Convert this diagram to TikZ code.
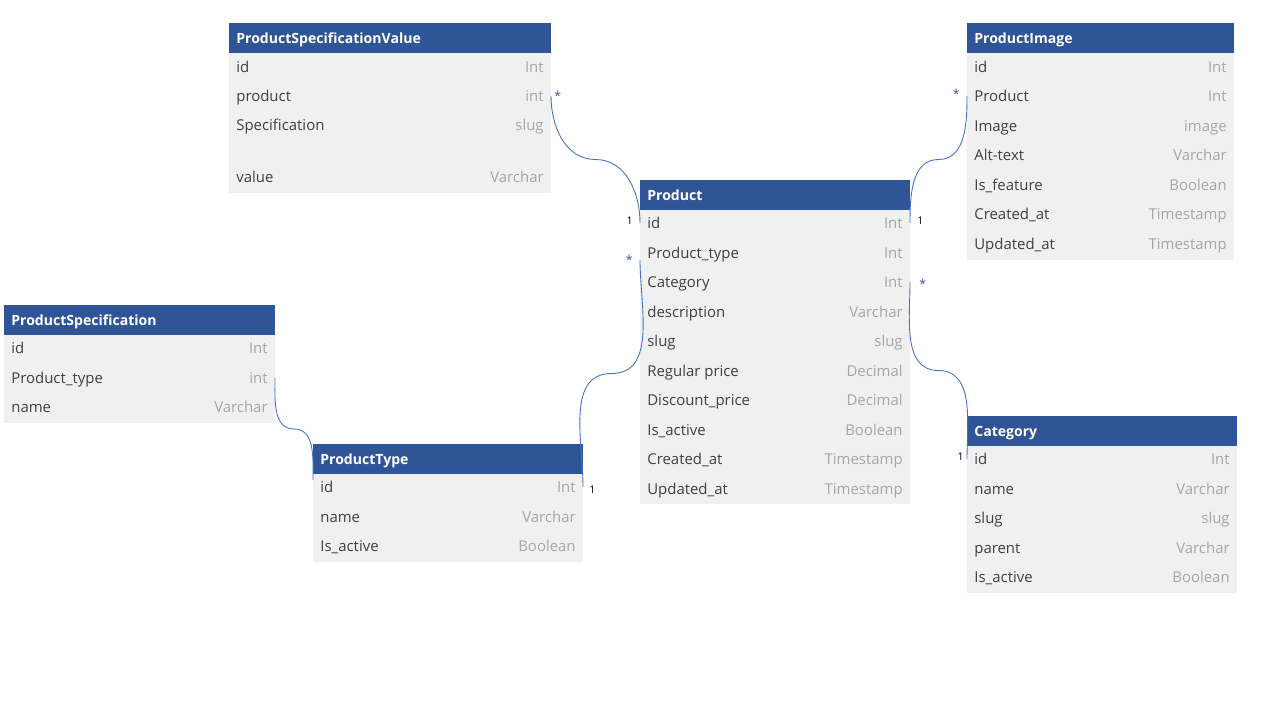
\documentclass[tikz,border=0pt]{standalone}
\usepackage{fontspec}
\setmainfont{Open Sans}
\usetikzlibrary{positioning,calc}
\definecolor{cabecera}{HTML}{2F5597}
\definecolor{cuerpo}{HTML}{F0F0F0}
\definecolor{campo}{HTML}{404040}
\definecolor{tipo}{HTML}{A6A6A6}
\definecolor{enlace}{HTML}{4472C4}
\tikzset{
  titulo/.style={anchor=west, inner xsep=0.14cm, inner ysep=0pt, text height=0.27cm, text depth=0.04cm, text=white, font=\bfseries\fontsize{8}{9}\selectfont},
  nombre/.style={anchor=west, inner xsep=0.14cm, inner ysep=0pt, text height=0.27cm, text depth=0.04cm, text=campo, font=\fontsize{8.5}{10}\selectfont},
  tipodato/.style={anchor=east, inner xsep=0.14cm, inner ysep=0pt, text height=0.27cm, text depth=0.04cm, text=tipo, font=\fontsize{8.5}{10}\selectfont},
  relacion/.style={draw=enlace, line width=0.5pt},
  muchos/.style={inner sep=0pt, text=cabecera, font=\fontsize{7}{8}\selectfont},
  uno/.style={inner sep=0pt, text=black, font=\fontsize{6}{7}\selectfont}
}
% #1 nombre, #2 x izq, #3 x der, #4 arriba, #5 abajo, #6 titulo, #7 filas
\newcommand{\tabla}[7]{%
  \fill[cuerpo] (#2,#4+30) rectangle (#3,#5);
  \fill[cabecera] (#2,#4) rectangle (#3,#4+30);
  \node[titulo] (#1) at (#2,#4+15) {#6};
  \foreach \fy/\fid/\fcampo/\ftipo in {#7}{
    \node[nombre] (#1-\fid) at (#2,\fy) {\fcampo};
    \node[tipodato] (#1-\fid-t) at (#3,\fy) {\ftipo};
  }
}
\begin{document}
\begin{tikzpicture}[x=0.02cm, y=-0.02cm]
  \useasboundingbox (0,0) rectangle (1280,720);
  % Tablas
  \tabla{psv}{229}{551}{23}{193}{ProductSpecificationValue}{67/id/id/Int, 96/product/product/int, 125/spec/Specification/slug, 177/value/value/Varchar}
  \tabla{prod}{640}{910}{180}{504}{Product}{223/id/id/Int, 253/ptype/Product\_type/Int, 282/cat/Category/Int, 312/desc/description/Varchar, 341/slug/slug/slug, 371/rprice/Regular price/Decimal, 400/dprice/Discount\_price/Decimal, 430/active/Is\_active/Boolean, 459/created/Created\_at/Timestamp, 489/updated/Updated\_at/Timestamp}
  \tabla{pi}{967}{1234}{23}{260}{ProductImage}{67/id/id/Int, 96/product/Product/Int, 126/image/Image/image, 155/alt/Alt-text/Varchar, 185/feat/Is\_feature/Boolean, 214/created/Created\_at/Timestamp, 244/updated/Updated\_at/Timestamp}
  \tabla{ps}{4}{275}{305}{423}{ProductSpecification}{348/id/id/Int, 378/ptype/Product\_type/int, 407/name/name/Varchar}
  \tabla{pt}{313}{583}{444}{562}{ProductType}{487/id/id/Int, 517/name/name/Varchar, 546/active/Is\_active/Boolean}
  \tabla{cat}{967}{1237}{416}{593}{Category}{459/id/id/Int, 489/name/name/Varchar, 518/slug/slug/slug, 548/parent/parent/Varchar, 577/active/Is\_active/Boolean}
  % Puntos de llegada
  \coordinate (prod-ptype-in) at ([yshift=-0.14cm]prod-ptype.west);
  \coordinate (pt-in) at ([yshift=0.14cm]pt-id.west);
  % Relaciones
  \draw[relacion] (psv-product-t.east) to[out=-90,in=180] ($(psv-product-t.east)!.5!(prod-id.west)$) to[out=0,in=90] (prod-id.west);
  \draw[relacion] (pt-id-t.east) to[out=90,in=180] ($(pt-id-t.east)!.5!(prod-ptype-in)$) to[out=0,in=-90] (prod-ptype-in);
  \draw[relacion] (ps-ptype-t.east) to[out=-90,in=180] ($(ps-ptype-t.east)!.5!(pt-in)$) to[out=0,in=90] (pt-in);
  \draw[relacion] (prod-id-t.east) to[out=90,in=180] ($(prod-id-t.east)!.5!(pi-product.west)$) to[out=0,in=-90] (pi-product.west);
  \draw[relacion] (prod-cat-t.east) to[out=-90,in=180] ($(prod-cat-t.east)!.5!(cat-id.west)$) to[out=0,in=90] (cat-id.west);
  % Cardinalidades
  \node[muchos, right=0.06cm of psv-product-t.east] (m1) {*};
  \node[uno, left=0.14cm of prod-id.west, yshift=0.04cm] (u1) {1};
  \node[muchos, left=0.14cm of prod-ptype-in] (m2) {*};
  \node[uno, right=0.12cm of pt-id-t.east, yshift=-0.06cm] (u2) {1};
  \node[uno, right=0.14cm of prod-id-t.east, yshift=0.04cm] (u4) {1};
  \node[muchos, left=0.14cm of pi-product.west, yshift=0.04cm] (m4) {*};
  \node[muchos, right=0.18cm of prod-cat-t.east, yshift=-0.04cm] (m5) {*};
  \node[uno, left=0.06cm of cat-id.west, yshift=0.04cm] (u5) {1};
\end{tikzpicture}
\end{document}
